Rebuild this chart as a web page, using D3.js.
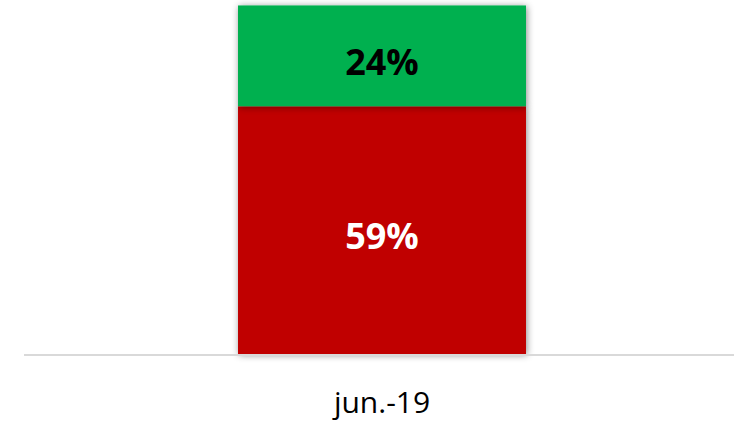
<!DOCTYPE html>
<html><head><meta charset="utf-8">
<script src="https://cdn.jsdelivr.net/npm/d3@7"></script>
<style>body{margin:0;background:#fff}svg{display:block}</style>
</head><body>
<svg id="c" width="734" height="422"></svg>
<script>
const categories = ["jun.-19"];
const seriesNames = ["Rojo", "Verde"];
const redValues = [0.59];
const greenValues = [0.24];
const colors = ["#C00000", "#00B050"];
const labelColors = ["#ffffff", "#000000"];

const svg = d3.select("#c");
const baseY = 354;
const x = d3.scaleBand().domain(categories).range([30, 734]).paddingInner(0.4194).paddingOuter(0.4194);
const y = d3.scaleLinear().domain([0, 0.843]).range([baseY, 0]);

const defs = svg.append("defs");
const f = defs.append("filter").attr("id", "sh").attr("x", "-10%").attr("y", "-10%").attr("width", "120%").attr("height", "120%");
f.append("feDropShadow").attr("dx", 1).attr("dy", 1).attr("stdDeviation", 3.5).attr("flood-color", "#000").attr("flood-opacity", 0.45);

const table = categories.map((c, i) => ({cat: c, Rojo: redValues[i], Verde: greenValues[i]}));
const stacked = d3.stack().keys(seriesNames)(table);

const g = svg.append("g");
stacked.forEach((s, si) => {
  g.selectAll(null).data(s).enter().append("rect")
    .attr("x", d => x(d.data.cat))
    .attr("width", x.bandwidth())
    .attr("y", d => y(d[1]))
    .attr("height", d => y(d[0]) - y(d[1]))
    .attr("fill", colors[si])
    .attr("filter", "url(#sh)");
});
stacked.forEach((s, si) => {
  g.selectAll(null).data(s).enter().append("text")
    .attr("x", d => x(d.data.cat) + x.bandwidth() / 2)
    .attr("y", d => (y(d[0]) + y(d[1])) / 2 + 19)
    .attr("text-anchor", "middle")
    .attr("font-family", "'Open Sans', 'Noto Sans', sans-serif")
    .attr("font-weight", "bold")
    .attr("font-size", 36)
    .attr("fill", labelColors[si])
    .text(d => Math.round((d[1] - d[0]) * 100) + "%");
});

const xAxis = d3.axisBottom(x).tickSize(0).tickPadding(37);
const ax = svg.append("g").attr("transform", `translate(0,${baseY + 1})`).call(xAxis);
ax.select(".domain").remove();
ax.append("line").attr("x1", 24).attr("x2", 734).attr("y1", 0).attr("y2", 0)
  .attr("stroke", "#d9d9d9").attr("stroke-width", 2);
ax.selectAll(".tick text")
  .attr("font-family", "'Open Sans', 'Noto Sans', sans-serif")
  .attr("font-size", 30)
  .attr("fill", "#000")
  .attr("dy", 0).attr("y", 58);
</script>
</body></html>
